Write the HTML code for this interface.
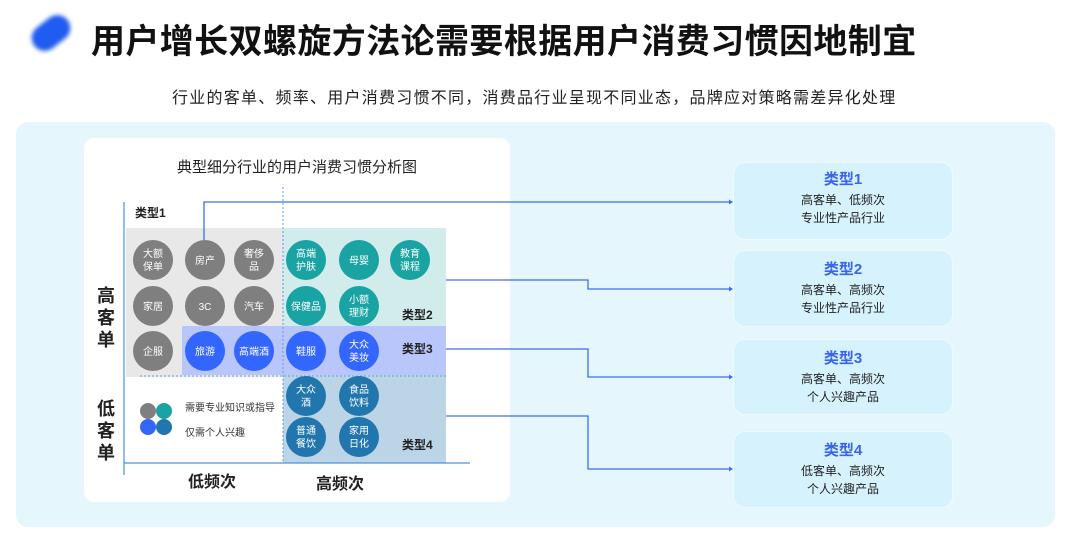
<!DOCTYPE html>
<html><head><meta charset="utf-8"><style>
*{margin:0;padding:0;box-sizing:border-box}
body{width:1080px;height:541px;background:#fff;position:relative;overflow:hidden;font-family:"Liberation Sans","Noto Sans CJK SC",sans-serif}
.a{position:absolute;white-space:nowrap}
</style></head><body>
<div class="a" style="left:30px;top:20px;width:42px;height:26px;border-radius:13px;background:#1f5cf0;transform:rotate(-38deg);filter:blur(2px)"></div>
<div class="a" style="left:91px;top:14px;font-size:34px;font-weight:bold;color:#111;letter-spacing:0.4px">用户增长双螺旋方法论需要根据用户消费习惯因地制宜</div>
<div class="a" style="left:172px;top:84px;font-size:16px;color:#222;letter-spacing:1.25px">行业的客单、频率、用户消费习惯不同，消费品行业呈现不同业态，品牌应对策略需差异化处理</div>
<div class="a" style="left:16px;top:122px;width:1039px;height:405px;border-radius:12px;background:#e5f7fc"></div>
<div class="a" style="left:84px;top:138px;width:426px;height:364px;border-radius:10px;background:#fff"></div>
<svg class="a" style="left:0;top:0" width="1080" height="541" font-family="Liberation Sans, Noto Sans CJK SC, sans-serif">
<text x="297" y="172" font-size="15" text-anchor="middle" fill="#222">典型细分行业的用户消费习惯分析图</text>
<rect x="126" y="228" width="157" height="149" fill="#e8e8e8"/>
<rect x="283" y="228" width="163" height="98" fill="#d2ecec"/>
<rect x="182" y="326" width="264" height="49" fill="#b8c6fb"/>
<rect x="283" y="375" width="163" height="88" fill="#bcd5e6"/>
<line x1="283" y1="187" x2="283" y2="463" stroke="#5aa0e0" stroke-dasharray="2,2"/>
<line x1="140" y1="376" x2="446" y2="376" stroke="#5aa0e0" stroke-dasharray="2,2"/>
<line x1="124" y1="202" x2="124" y2="475" stroke="#4a90e2" stroke-width="1.2"/>
<line x1="124" y1="463" x2="470" y2="463" stroke="#4a90e2" stroke-width="1.2"/>
<g font-size="12" font-weight="bold" fill="#222">
<text x="135" y="217">类型1</text><text x="402" y="319">类型2</text><text x="402" y="353">类型3</text><text x="402" y="449">类型4</text></g>
<g font-size="18" font-weight="bold" fill="#222" text-anchor="middle">
<text x="106" y="302">高</text><text x="106" y="324">客</text><text x="106" y="346">单</text>
<text x="106" y="415">低</text><text x="106" y="437">客</text><text x="106" y="459">单</text></g>
<g font-size="16" font-weight="bold" fill="#222" text-anchor="middle"><text x="212" y="487">低频次</text><text x="340" y="489">高频次</text></g>
<g fill="#7f7f7f"><circle cx="153" cy="260" r="20"/><circle cx="205" cy="260" r="20"/><circle cx="254" cy="260" r="20"/><circle cx="153" cy="306" r="20"/><circle cx="205" cy="306" r="20"/><circle cx="254" cy="306" r="20"/><circle cx="153" cy="351" r="20"/></g>
<g fill="#1aa3a3"><circle cx="306" cy="260" r="20"/><circle cx="359" cy="260" r="20"/><circle cx="410" cy="260" r="20"/><circle cx="306" cy="306" r="20"/><circle cx="359" cy="306" r="20"/></g>
<g fill="#3366ff"><circle cx="205" cy="351" r="20"/><circle cx="254" cy="351" r="20"/><circle cx="306" cy="351" r="20"/><circle cx="359" cy="351" r="20"/></g>
<g fill="#2176ae"><circle cx="306" cy="396" r="20"/><circle cx="359" cy="396" r="20"/><circle cx="306" cy="437" r="20"/><circle cx="359" cy="437" r="20"/></g>
<g font-size="10" fill="#fff" text-anchor="middle">
<text x="153" y="257">大额</text><text x="153" y="270">保单</text><text x="205" y="264">房产</text><text x="254" y="257">奢侈</text><text x="254" y="270">品</text>
<text x="153" y="310">家居</text><text x="205" y="310">3C</text><text x="254" y="310">汽车</text><text x="153" y="355">企服</text>
<text x="306" y="257">高端</text><text x="306" y="270">护肤</text><text x="359" y="264">母婴</text><text x="410" y="257">教育</text><text x="410" y="270">课程</text>
<text x="306" y="310">保健品</text><text x="359" y="303">小额</text><text x="359" y="316">理财</text>
<text x="205" y="355">旅游</text><text x="254" y="355">高端酒</text><text x="306" y="355">鞋服</text><text x="359" y="348">大众</text><text x="359" y="361">美妆</text>
<text x="306" y="393">大众</text><text x="306" y="406">酒</text><text x="359" y="393">食品</text><text x="359" y="406">饮料</text>
<text x="306" y="434">普通</text><text x="306" y="447">餐饮</text><text x="359" y="434">家用</text><text x="359" y="447">日化</text></g>
<circle cx="148" cy="411" r="8" fill="#7f7f7f"/><circle cx="164" cy="411" r="8" fill="#1aa3a3"/><circle cx="148" cy="427" r="8" fill="#3366ff"/><circle cx="164" cy="427" r="8" fill="#2176ae"/>
<g font-size="10" fill="#333"><text x="185" y="411">需要专业知识或指导</text><text x="185" y="436">仅需个人兴趣</text></g>
<g stroke="#3d6ef0" stroke-width="1.3" fill="none">
<polyline points="204,240 204,202 731,202"/>
<polyline points="446,280 588,280 588,289 731,289"/>
<polyline points="446,349 588,349 588,377 731,377"/>
<polyline points="446,416 588,416 588,469 731,469"/>
</g>
<g fill="#3d6ef0"><path d="M733,202 l-4,-2.5 v5z"/><path d="M733,289 l-4,-2.5 v5z"/><path d="M733,377 l-4,-2.5 v5z"/><path d="M733,469 l-4,-2.5 v5z"/></g>
</svg>
<div class="a" style="left:733px;top:162px;width:220px;height:78px;border-radius:12px;background:#d6f3fd;border:1.5px solid #eefaff;text-align:center;padding-top:8px;line-height:18px;font-size:12px;color:#222"><div style="font-size:15px;font-weight:bold;color:#3a63f0;margin-bottom:2px">类型1</div>高客单、低频次<br>专业性产品行业</div>
<div class="a" style="left:733px;top:250px;width:220px;height:77px;border-radius:12px;background:#d6f3fd;border:1.5px solid #eefaff;text-align:center;padding-top:10px;line-height:18px;font-size:12px;color:#222"><div style="font-size:15px;font-weight:bold;color:#3a63f0;margin-bottom:2px">类型2</div>高客单、高频次<br>专业性产品行业</div>
<div class="a" style="left:733px;top:339px;width:220px;height:76px;border-radius:12px;background:#d6f3fd;border:1.5px solid #eefaff;text-align:center;padding-top:10px;line-height:18px;font-size:12px;color:#222"><div style="font-size:15px;font-weight:bold;color:#3a63f0;margin-bottom:2px">类型3</div>高客单、高频次<br>个人兴趣产品</div>
<div class="a" style="left:733px;top:431px;width:220px;height:77px;border-radius:12px;background:#d6f3fd;border:1.5px solid #eefaff;text-align:center;padding-top:10px;line-height:18px;font-size:12px;color:#222"><div style="font-size:15px;font-weight:bold;color:#3a63f0;margin-bottom:2px">类型4</div>低客单、高频次<br>个人兴趣产品</div>
</body></html>
